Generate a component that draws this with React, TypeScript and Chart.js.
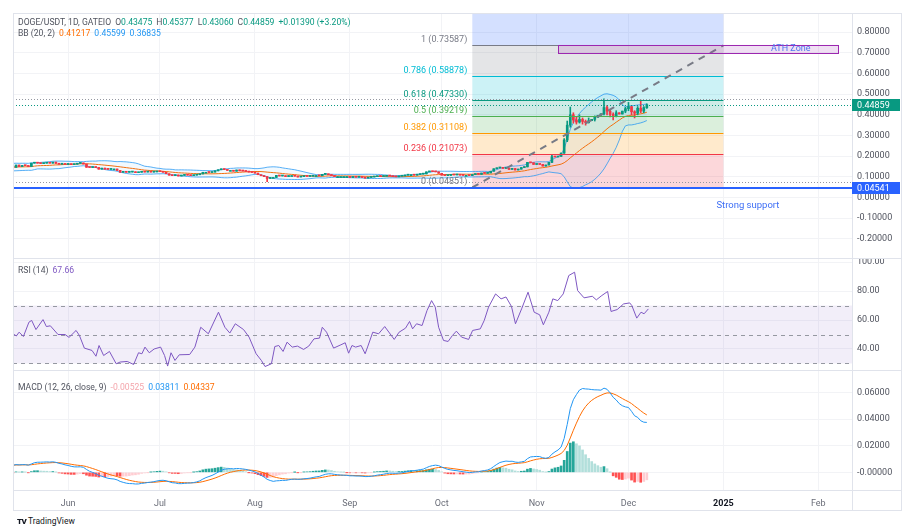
import React, { useEffect, useRef } from 'react';
import { Chart, registerables } from 'chart.js';

Chart.register(...registerables);

// ---------------- DATA ----------------
// day index: 0 = 1 Jun 2024
const FIRST_DAY = -31; // 1 May 2024 (first 13 days only warm up the indicators)
const FIRST_OPEN = 0.127;

const closesMay = [0.126, 0.131, 0.150, 0.157, 0.161, 0.155, 0.146, 0.146, 0.155, 0.143, 0.144, 0.148, 0.148,
  0.146, 0.157, 0.150, 0.155, 0.154, 0.150, 0.166, 0.170, 0.166, 0.164, 0.166, 0.168, 0.166, 0.171, 0.165, 0.161, 0.163, 0.160];
const closesJun = [0.162, 0.159, 0.161, 0.165, 0.167, 0.162, 0.146, 0.145, 0.148, 0.145, 0.137, 0.142, 0.137, 0.136, 0.138,
  0.138, 0.131, 0.122, 0.124, 0.122, 0.123, 0.124, 0.120, 0.122, 0.126, 0.123, 0.125, 0.123, 0.124, 0.126];
const closesJul = [0.125, 0.122, 0.115, 0.108, 0.106, 0.109, 0.104, 0.107, 0.109, 0.108, 0.106, 0.108, 0.110, 0.114, 0.122,
  0.122, 0.121, 0.123, 0.129, 0.134, 0.138, 0.135, 0.131, 0.131, 0.127, 0.133, 0.129, 0.128, 0.126, 0.123, 0.121];
const closesAug = [0.118, 0.110, 0.105, 0.101, 0.092, 0.097, 0.097, 0.107, 0.104, 0.105, 0.101, 0.106, 0.106, 0.103, 0.099,
  0.101, 0.103, 0.102, 0.103, 0.106, 0.106, 0.105, 0.112, 0.113, 0.110, 0.106, 0.101, 0.101, 0.101, 0.101, 0.101];
const closesSep = [0.097, 0.100, 0.098, 0.099, 0.097, 0.094, 0.097, 0.099, 0.101, 0.103, 0.102, 0.103, 0.106, 0.104, 0.101,
  0.100, 0.103, 0.104, 0.108, 0.110, 0.110, 0.108, 0.111, 0.113, 0.114, 0.124, 0.126, 0.125, 0.124, 0.117];
const closesOct = [0.108, 0.106, 0.107, 0.110, 0.109, 0.110, 0.108, 0.107, 0.107, 0.106, 0.111, 0.113, 0.112, 0.118, 0.117,
  0.119, 0.127, 0.139, 0.143, 0.146, 0.141, 0.142, 0.136, 0.140, 0.133, 0.137, 0.145, 0.148, 0.170, 0.168, 0.160];
const closesNov = [0.161, 0.160, 0.152, 0.157, 0.170, 0.197, 0.196, 0.199, 0.215, 0.278, 0.350, 0.400, 0.375, 0.365, 0.378,
  0.368, 0.362, 0.372, 0.378, 0.388, 0.398, 0.405, 0.435, 0.418, 0.402, 0.395, 0.410, 0.404, 0.418, 0.430];
const closesDec = [0.440, 0.415, 0.408, 0.432, 0.418, 0.43475, 0.44859];

const wickDays = [65, 158, 162, 163, 164, 165, 166, 167, 168, 169, 170, 172, 175, 176, 177, 178, 179, 182, 183, 184, 185, 186, 187, 188, 189];
const wickHighs = [0.101, 0.205, 0.285, 0.37, 0.438, 0.41, 0.39, 0.40, 0.385, 0.375, 0.385, 0.395, 0.478, 0.445, 0.425, 0.41, 0.42, 0.437, 0.46, 0.44, 0.42, 0.44, 0.472, 0.44, 0.45377];
const wickLows = [0.0765, 0.168, 0.213, 0.27, 0.34, 0.36, 0.355, 0.36, 0.355, 0.35, 0.36, 0.37, 0.40, 0.40, 0.39, 0.375, 0.39, 0.41, 0.42, 0.40, 0.385, 0.40, 0.41, 0.41, 0.4306];

const rsiDays = [-18, -16.9, -16, -14.6, -12.8, -11.9, -10.5, -8.2, -7.1, -5.8,
  -3.3, -1, 0.3, 2.6, 3.7, 5.3, 7.8, 9.1, 10.1, 11.6,
  13.5, 15.7, 17, 19.3, 21.4, 23, 24.1, 25.1, 26.5, 28.1,
  30.2, 31.5, 32.5, 33.6, 34.9, 36.3, 39.7, 41.4, 43.3, 45.8,
  49.1, 51.2, 52.8, 54.6, 57.3, 59.1, 61.4, 63.1, 64.3, 66.4,
  67.5, 68.8, 70.2, 71.5, 73.2, 74.9, 76.9, 78.6, 80.3, 82.1,
  83, 84.4, 86.7, 89.1, 90.5, 91.6, 92.7, 93.9, 95.7, 97,
  97.9, 99.5, 101.4, 103.4, 106.5, 108.1, 110.2, 111.5, 112.5, 113.8,
  115.6, 117.2, 118.7, 119.9, 121, 122.6, 124.1, 125.5, 126.8, 128.5,
  130.8, 132.1, 134.6, 135.9, 137.3, 139.6, 141.4, 143, 144.8, 146.1,
  148.1, 150.2, 152.2, 154, 155.2, 157, 158.3, 159.9, 161.7, 163.5,
  165.4, 166.4, 168.5, 171.2, 172.5, 174.3, 176.2, 177.3, 179.3, 181.4,
  183.4, 184.1, 185.7, 187.1, 188.1, 189.5];
const rsiValues = [50.5, 49, 51.6, 48.6, 58.5, 59.7, 53.4, 60.3, 55.5, 56,
  50, 50, 48, 52.8, 49.3, 40.6, 39, 35, 42.4, 35.5,
  38.3, 29.8, 31, 31.4, 29.3, 37.4, 36.7, 41.3, 37.4, 40,
  41.3, 35.5, 28.2, 37.4, 32.1, 36, 36.2, 41.3, 55, 50.5,
  65.4, 55, 51, 57.4, 53.4, 48.2, 36.7, 32.1, 27.9, 29.8,
  41.7, 42.4, 38.3, 44.7, 41.3, 42, 39.7, 42, 47, 47.5,
  55, 51.6, 40.6, 42.9, 44.3, 37.1, 42.4, 41.3, 42.4, 36.7,
  42, 51.6, 50.5, 55.5, 46.6, 51.6, 54.4, 59, 53.9, 57.4,
  56.2, 66.5, 73.4, 68.9, 55, 45.9, 45.2, 49.3, 52.3, 48.2,
  46.6, 52.8, 53.9, 59.7, 68.9, 78, 74.6, 75.9, 69.3, 57.4,
  67.7, 79.2, 65.4, 63.6, 56.7, 65.4, 74.6, 73.4, 78, 90.7,
  93, 80.3, 75.3, 76.4, 73.9, 76.9, 79.7, 65.9, 67.2, 71.1,
  71.8, 70, 61.3, 65.4, 64.3, 67.66];

const monthTickDays = [0, 30, 61, 92, 122, 153, 183, 214, 245];
const monthTickLabels = ['Jun', 'Jul', 'Aug', 'Sep', 'Oct', 'Nov', 'Dec', '2025', 'Feb'];
const YEAR_LABEL = '2025';
const X_MIN = -18;
const X_MAX = 256;

const priceTicks = [-0.2, -0.1, 0, 0.1, 0.2, 0.3, 0.4, 0.5, 0.6, 0.7, 0.8];
const rsiTicks = [40, 60, 80, 100];
const macdTicks = [0, 0.02, 0.04, 0.06];
const macdTickLabels = ['-0.00000', '0.02000', '0.04000', '0.06000'];

const fibLevels = [0, 0.236, 0.382, 0.5, 0.618, 0.786, 1, 1.618];
const fibPrices = [0.04851, 0.21073, 0.31108, 0.39219, 0.47330, 0.58878, 0.73587, 1.16066];
const fibColors = ['#787B86', '#F23645', '#FF9800', '#4CAF50', '#089981', '#00BCD4', '#787B86', '#2962FF'];
const FIB_START_DAY = 132;
const FIB_END_DAY = 214;

const ATH_START_DAY = 160;
const ATH_END_DAY = 251.6;
const ATH_TOP = 0.7385;
const ATH_BOTTOM = 0.70;
const ATH_TEXT_DAY = 236;

const SUPPORT_PRICE = 0.04541;
const SUPPORT_TEXT_DAY = 222;
const SUPPORT_TEXT_PRICE = -0.041;

const RSI_UPPER = 70;
const RSI_MID = 50;
const RSI_LOWER = 30;

// ---------------- derived series ----------------
const closes = [...closesMay, ...closesJun, ...closesJul, ...closesAug, ...closesSep, ...closesOct, ...closesNov, ...closesDec];
const days = closes.map((_, i) => FIRST_DAY + i);
const opens = closes.map((c, i) => (i === 0 ? FIRST_OPEN : closes[i - 1]));

const bbBasis: number[] = [];
const bbUpper: number[] = [];
const bbLower: number[] = [];
closes.forEach((_, i) => {
  const win = closes.slice(Math.max(0, i - 19), i + 1);
  const m = win.reduce((a, b) => a + b, 0) / win.length;
  const sd = Math.sqrt(win.reduce((a, b) => a + (b - m) * (b - m), 0) / win.length);
  bbBasis.push(m);
  bbUpper.push(m + 2 * sd);
  bbLower.push(m - 2 * sd);
});

const ema = (arr: number[], n: number) => {
  const k = 2 / (n + 1);
  const out: number[] = [];
  arr.forEach((v, i) => out.push(i === 0 ? v : v * k + out[i - 1] * (1 - k)));
  return out;
};
const ema12 = ema(closes, 12);
const ema26 = ema(closes, 26);
const macdLine = ema12.map((v, i) => v - ema26[i]);
const signalLine = ema(macdLine, 9);
const hist = macdLine.map((v, i) => v - signalLine[i]);

const allHighs = closes.map((c, i) => {
  const w = wickDays.indexOf(days[i]);
  return w >= 0 ? wickHighs[w] : Math.max(c, opens[i]);
});
const allLows = closes.map((c, i) => {
  const w = wickDays.indexOf(days[i]);
  return w >= 0 ? wickLows[w] : Math.min(c, opens[i]);
});
const visIdx = days.map((d, i) => (d >= X_MIN ? i : -1)).filter((i) => i >= 0);
const rangeHigh = Math.max(...visIdx.map((i) => allHighs[i]));
const rangeLow = Math.min(...visIdx.map((i) => allLows[i]));
const lastClose = closes[closes.length - 1];

// ---------------- styles ----------------
const FONT = 'Roboto, "Noto Sans", sans-serif';
const AXIS_TEXT = '#50535E';
const GRID = '#F2F3F6';
const BORDER = '#E0E3EB';
const UP = '#089981';
const DOWN = '#F23645';
const AXIS_W = 49;

const rgba = (hex: string, a: number) => {
  const n = parseInt(hex.slice(1), 16);
  return `rgba(${(n >> 16) & 255},${(n >> 8) & 255},${n & 255},${a})`;
};

const xScale = (showLabels: boolean) => ({
  type: 'linear',
  min: X_MIN,
  max: X_MAX,
  offset: false,
  afterBuildTicks: (s: any) => {
    s.ticks = monthTickDays.map((v) => ({ value: v }));
  },
  afterFit: (s: any) => {
    s.height = showLabels ? 20 : 0;
    s.paddingLeft = 0;
    s.paddingRight = 0;
    s.paddingTop = 0;
    s.paddingBottom = 0;
  },
  ticks: {
    display: showLabels,
    autoSkip: false,
    maxRotation: 0,
    padding: 8,
    callback: (_v: any, i: number) => monthTickLabels[i],
    color: (c: any) => (monthTickLabels[c.index] === YEAR_LABEL ? '#131722' : '#6A6D78'),
    font: (c: any) => ({ family: FONT, size: 9, weight: monthTickLabels[c.index] === YEAR_LABEL ? 'bold' : 'normal' }),
  },
  grid: { color: GRID, drawTicks: false, offset: false },
  border: { display: false },
});

const yScale = (min: number, max: number, ticks: number[], fmt: (v: number, i: number) => string) => ({
  type: 'linear',
  position: 'right',
  min,
  max,
  afterBuildTicks: (s: any) => {
    s.ticks = ticks.map((v) => ({ value: v }));
  },
  afterFit: (s: any) => {
    s.width = AXIS_W;
    s.paddingTop = 0;
    s.paddingBottom = 0;
    s.paddingLeft = 0;
    s.paddingRight = 0;
  },
  ticks: {
    autoSkip: false,
    padding: 5,
    color: AXIS_TEXT,
    font: { family: FONT, size: 9 },
    callback: (v: any, i: number) => fmt(Number(v), i),
  },
  grid: { color: GRID, drawTicks: false },
  border: { color: BORDER },
});

const baseOptions = {
  responsive: false,
  maintainAspectRatio: false,
  animation: false,
  events: [],
  layout: { padding: 0, autoPadding: false },
};

const hline = (ctx: any, a: any, y: number, color: string, width: number, dash: number[]) => {
  ctx.save();
  ctx.strokeStyle = color;
  ctx.lineWidth = width;
  ctx.setLineDash(dash);
  ctx.beginPath();
  const yy = width % 2 === 1 ? Math.round(y) + 0.5 : Math.round(y);
  ctx.moveTo(a.left, yy);
  ctx.lineTo(a.right, yy);
  ctx.stroke();
  ctx.restore();
};

const mainPlugin = {
  id: 'mainDrawings',
  beforeDatasetsDraw(chart: any) {
    const { ctx, chartArea: a, scales } = chart;
    const x = scales.x;
    const y = scales.y;
    const x0 = x.getPixelForValue(FIB_START_DAY);
    const x1 = x.getPixelForValue(FIB_END_DAY);
    ctx.save();
    ctx.beginPath();
    ctx.rect(a.left, a.top, a.width, a.height);
    ctx.clip();
    for (let i = 0; i < fibPrices.length - 1; i++) {
      const yLo = y.getPixelForValue(fibPrices[i]);
      const yHi = y.getPixelForValue(fibPrices[i + 1]);
      ctx.fillStyle = rgba(fibColors[i + 1], 0.2);
      ctx.fillRect(x0, yHi, x1 - x0, yLo - yHi);
    }
    ctx.restore();
  },
  afterDatasetsDraw(chart: any) {
    const { ctx, chartArea: a, scales } = chart;
    const x = scales.x;
    const y = scales.y;
    const x0 = x.getPixelForValue(FIB_START_DAY);
    const x1 = x.getPixelForValue(FIB_END_DAY);
    ctx.save();
    ctx.beginPath();
    ctx.rect(a.left, a.top, a.width, a.height);
    ctx.clip();

    hline(ctx, a, y.getPixelForValue(rangeHigh), '#9598A1', 1, [1, 2]);
    hline(ctx, a, y.getPixelForValue(rangeLow), '#9598A1', 1, [1, 2]);
    hline(ctx, a, y.getPixelForValue(lastClose), UP, 1, [1, 2]);

    ctx.font = `9px ${FONT}`;
    ctx.textAlign = 'right';
    ctx.textBaseline = 'bottom';
    fibPrices.forEach((p, i) => {
      const yy = Math.round(y.getPixelForValue(p)) + 0.5;
      ctx.strokeStyle = fibColors[i];
      ctx.lineWidth = 1;
      ctx.setLineDash([]);
      ctx.beginPath();
      ctx.moveTo(x0, yy);
      ctx.lineTo(x1, yy);
      ctx.stroke();
      ctx.fillStyle = fibColors[i];
      ctx.fillText(`${fibLevels[i]} (${p.toFixed(5)})`, x0 - 5, yy - 1);
    });

    ctx.strokeStyle = '#787B86';
    ctx.lineWidth = 2;
    ctx.setLineDash([7, 6]);
    ctx.beginPath();
    ctx.moveTo(x0, y.getPixelForValue(fibPrices[0]));
    ctx.lineTo(x1, y.getPixelForValue(fibPrices[6]));
    ctx.stroke();
    ctx.setLineDash([]);

    const ax0 = x.getPixelForValue(ATH_START_DAY);
    const ax1 = x.getPixelForValue(ATH_END_DAY);
    const ay0 = y.getPixelForValue(ATH_TOP);
    const ay1 = y.getPixelForValue(ATH_BOTTOM);
    ctx.fillStyle = 'rgba(156,39,176,0.15)';
    ctx.fillRect(ax0, ay0, ax1 - ax0, ay1 - ay0);
    ctx.strokeStyle = '#9C27B0';
    ctx.lineWidth = 1;
    ctx.strokeRect(Math.round(ax0) + 0.5, Math.round(ay0) + 0.5, Math.round(ax1 - ax0), Math.round(ay1 - ay0));
    ctx.fillStyle = '#4C74F2';
    ctx.textAlign = 'center';
    ctx.textBaseline = 'middle';
    ctx.fillText('ATH Zone', x.getPixelForValue(ATH_TEXT_DAY), (ay0 + ay1) / 2);

    hline(ctx, a, y.getPixelForValue(SUPPORT_PRICE), '#2962FF', 2, []);
    ctx.font = `9.5px ${FONT}`;
    ctx.fillStyle = '#3D6EF5';
    ctx.textAlign = 'center';
    ctx.textBaseline = 'middle';
    ctx.fillText('Strong support', x.getPixelForValue(SUPPORT_TEXT_DAY), y.getPixelForValue(SUPPORT_TEXT_PRICE));
    ctx.restore();
  },
  afterDraw(chart: any) {
    const { ctx, chartArea: a, scales } = chart;
    const y = scales.y;
    const boxes = [
      { v: lastClose, c: UP },
      { v: SUPPORT_PRICE, c: '#2962FF' },
    ];
    ctx.save();
    ctx.font = `9px ${FONT}`;
    ctx.textAlign = 'left';
    ctx.textBaseline = 'middle';
    boxes.forEach((b) => {
      const yy = Math.round(y.getPixelForValue(b.v));
      ctx.fillStyle = b.c;
      ctx.fillRect(a.right, yy - 6, AXIS_W - 1, 12);
      ctx.fillStyle = '#FFFFFF';
      ctx.fillText(b.v.toFixed(5), a.right + 5, yy + 0.5);
    });
    ctx.restore();
  },
};

const rsiPlugin = {
  id: 'rsiBand',
  beforeDatasetsDraw(chart: any) {
    const { ctx, chartArea: a, scales } = chart;
    const y = scales.y;
    const yu = y.getPixelForValue(RSI_UPPER);
    const yl = y.getPixelForValue(RSI_LOWER);
    ctx.save();
    ctx.fillStyle = 'rgba(126,87,194,0.1)';
    ctx.fillRect(a.left, yu, a.width, yl - yu);
    [RSI_UPPER, RSI_MID, RSI_LOWER].forEach((v) => hline(ctx, a, y.getPixelForValue(v), '#9598A1', 1, [4, 4]));
    ctx.restore();
  },
};

export default function App() {
  const c1 = useRef<HTMLCanvasElement>(null);
  const c2 = useRef<HTMLCanvasElement>(null);
  const c3 = useRef<HTMLCanvasElement>(null);

  useEffect(() => {
    const candleColors = closes.map((c, i) => (c >= opens[i] ? UP : DOWN));
    const mainChart = new Chart(c1.current as HTMLCanvasElement, {
      type: 'line',
      data: {
        datasets: [
          {
            type: 'line',
            data: days.map((d, i) => ({ x: d, y: bbUpper[i] })),
            borderColor: 'rgba(33,150,243,0.75)',
            borderWidth: 1,
            pointRadius: 0,
            fill: '+1',
            backgroundColor: 'rgba(33,150,243,0.06)',
            order: 3,
          },
          {
            type: 'line',
            data: days.map((d, i) => ({ x: d, y: bbLower[i] })),
            borderColor: 'rgba(33,150,243,0.75)',
            borderWidth: 1,
            pointRadius: 0,
            fill: false,
            order: 3,
          },
          {
            type: 'line',
            data: days.map((d, i) => ({ x: d, y: bbBasis[i] })),
            borderColor: '#FF6D00',
            borderWidth: 1,
            pointRadius: 0,
            fill: false,
            order: 3,
          },
          {
            type: 'bar',
            data: days.map((d, i) => ({ x: d, y: [allLows[i], allHighs[i]] })),
            backgroundColor: candleColors,
            barThickness: 1,
            grouped: false,
            order: 2,
          },
          {
            type: 'bar',
            data: days.map((d, i) => ({ x: d, y: [opens[i], closes[i]] })),
            backgroundColor: candleColors,
            barThickness: 2,
            minBarLength: 1,
            grouped: false,
            order: 1,
          },
        ],
      } as any,
      options: {
        ...baseOptions,
        plugins: { legend: { display: false }, tooltip: { enabled: false } },
        scales: {
          x: xScale(false),
          y: yScale(-0.293, 0.893, priceTicks, (v) => v.toFixed(5)),
        },
      } as any,
      plugins: [mainPlugin],
    });

    const rsiChart = new Chart(c2.current as HTMLCanvasElement, {
      type: 'line',
      data: {
        datasets: [
          {
            data: rsiDays.map((d, i) => ({ x: d, y: rsiValues[i] })),
            borderColor: '#7E57C2',
            borderWidth: 1,
            pointRadius: 0,
            fill: false,
          },
        ],
      } as any,
      options: {
        ...baseOptions,
        plugins: { legend: { display: false }, tooltip: { enabled: false } },
        scales: {
          x: xScale(false),
          y: yScale(25.5, 102.8, rsiTicks, (v) => v.toFixed(2)),
        },
      } as any,
      plugins: [rsiPlugin],
    });

    const histColors = hist.map((h, i) => {
      const prev = i > 0 ? hist[i - 1] : h;
      if (h >= 0) return h >= prev ? '#26A69A' : '#B2DFDB';
      return h < prev ? '#FF5252' : '#FFCDD2';
    });
    const macdChart = new Chart(c3.current as HTMLCanvasElement, {
      type: 'line',
      data: {
        datasets: [
          {
            type: 'line',
            data: days.map((d, i) => ({ x: d, y: macdLine[i] })),
            borderColor: '#2196F3',
            borderWidth: 1,
            pointRadius: 0,
            fill: false,
            order: 1,
          },
          {
            type: 'line',
            data: days.map((d, i) => ({ x: d, y: signalLine[i] })),
            borderColor: '#FF6D00',
            borderWidth: 1,
            pointRadius: 0,
            fill: false,
            order: 2,
          },
          {
            type: 'bar',
            data: days.map((d, i) => ({ x: d, y: hist[i] })),
            backgroundColor: histColors,
            barThickness: 2,
            grouped: false,
            order: 3,
          },
        ],
      } as any,
      options: {
        ...baseOptions,
        plugins: { legend: { display: false }, tooltip: { enabled: false } },
        scales: {
          x: xScale(true),
          y: yScale(-0.0133, 0.0771, macdTicks, (_v, i) => macdTickLabels[i]),
        },
      } as any,
    });

    return () => {
      mainChart.destroy();
      rsiChart.destroy();
      macdChart.destroy();
    };
  }, []);

  const row = (top: number): React.CSSProperties => ({
    position: 'absolute', left: 18, top, display: 'flex', gap: 4, fontSize: 8.6, lineHeight: '11px',
    whiteSpace: 'nowrap', fontFamily: FONT, color: AXIS_TEXT,
  });
  const line = (style: React.CSSProperties) => (
    <div style={{ position: 'absolute', background: BORDER, pointerEvents: 'none', ...style }} />
  );
  const G = { color: UP };

  return (
    <div style={{ position: 'fixed', left: 0, top: 0, width: 908, height: 528, background: '#FFFFFF', overflow: 'hidden', fontFamily: FONT }}>
      <canvas ref={c1} width={888} height={245} style={{ position: 'absolute', left: 13, top: 13 }} />
      <canvas ref={c2} width={888} height={112} style={{ position: 'absolute', left: 13, top: 258 }} />
      <canvas ref={c3} width={888} height={140} style={{ position: 'absolute', left: 13, top: 370 }} />

      {line({ left: 13, top: 13, width: 889, height: 1 })}
      {line({ left: 13, top: 13, width: 1, height: 498 })}
      {line({ left: 901, top: 13, width: 1, height: 498 })}
      {line({ left: 13, top: 510, width: 889, height: 1 })}
      {line({ left: 13, top: 258, width: 889, height: 1 })}
      {line({ left: 13, top: 370, width: 889, height: 1 })}
      {line({ left: 13, top: 490, width: 889, height: 1 })}
      {line({ left: 852, top: 490, width: 1, height: 20 })}

      <div style={row(16.5)}>
        <span>DOGE/USDT, 1D, GATEIO</span>
        <span>O<span style={G}>0.43475</span></span>
        <span>H<span style={G}>0.45377</span></span>
        <span>L<span style={G}>0.43060</span></span>
        <span>C<span style={G}>0.44859</span></span>
        <span style={G}>+0.01390 (+3.20%)</span>
      </div>
      <div style={row(27.5)}>
        <span>BB (20, 2)</span>
        <span style={{ color: '#FF6D00' }}>0.41217</span>
        <span style={{ color: '#2196F3' }}>0.45599</span>
        <span style={{ color: '#2196F3' }}>0.36835</span>
      </div>
      <div style={row(264.5)}>
        <span>RSI (14)</span>
        <span style={{ color: '#7E57C2' }}>67.66</span>
      </div>
      <div style={row(381.5)}>
        <span>MACD (12, 26, close, 9)</span>
        <span style={{ color: '#F4A6AC' }}>-0.00525</span>
        <span style={{ color: '#2196F3' }}>0.03811</span>
        <span style={{ color: '#FF6D00' }}>0.04337</span>
      </div>

      <div style={{ position: 'absolute', left: 17, top: 515.5, color: '#131722', fontWeight: 900, fontSize: 8, letterSpacing: -0.5, lineHeight: '11px', fontFamily: FONT }}>TV</div>
      <div style={{ position: 'absolute', left: 28, top: 515.5, color: '#131722', fontSize: 8.5, lineHeight: '11px', fontFamily: FONT }}>TradingView</div>
    </div>
  );
}
